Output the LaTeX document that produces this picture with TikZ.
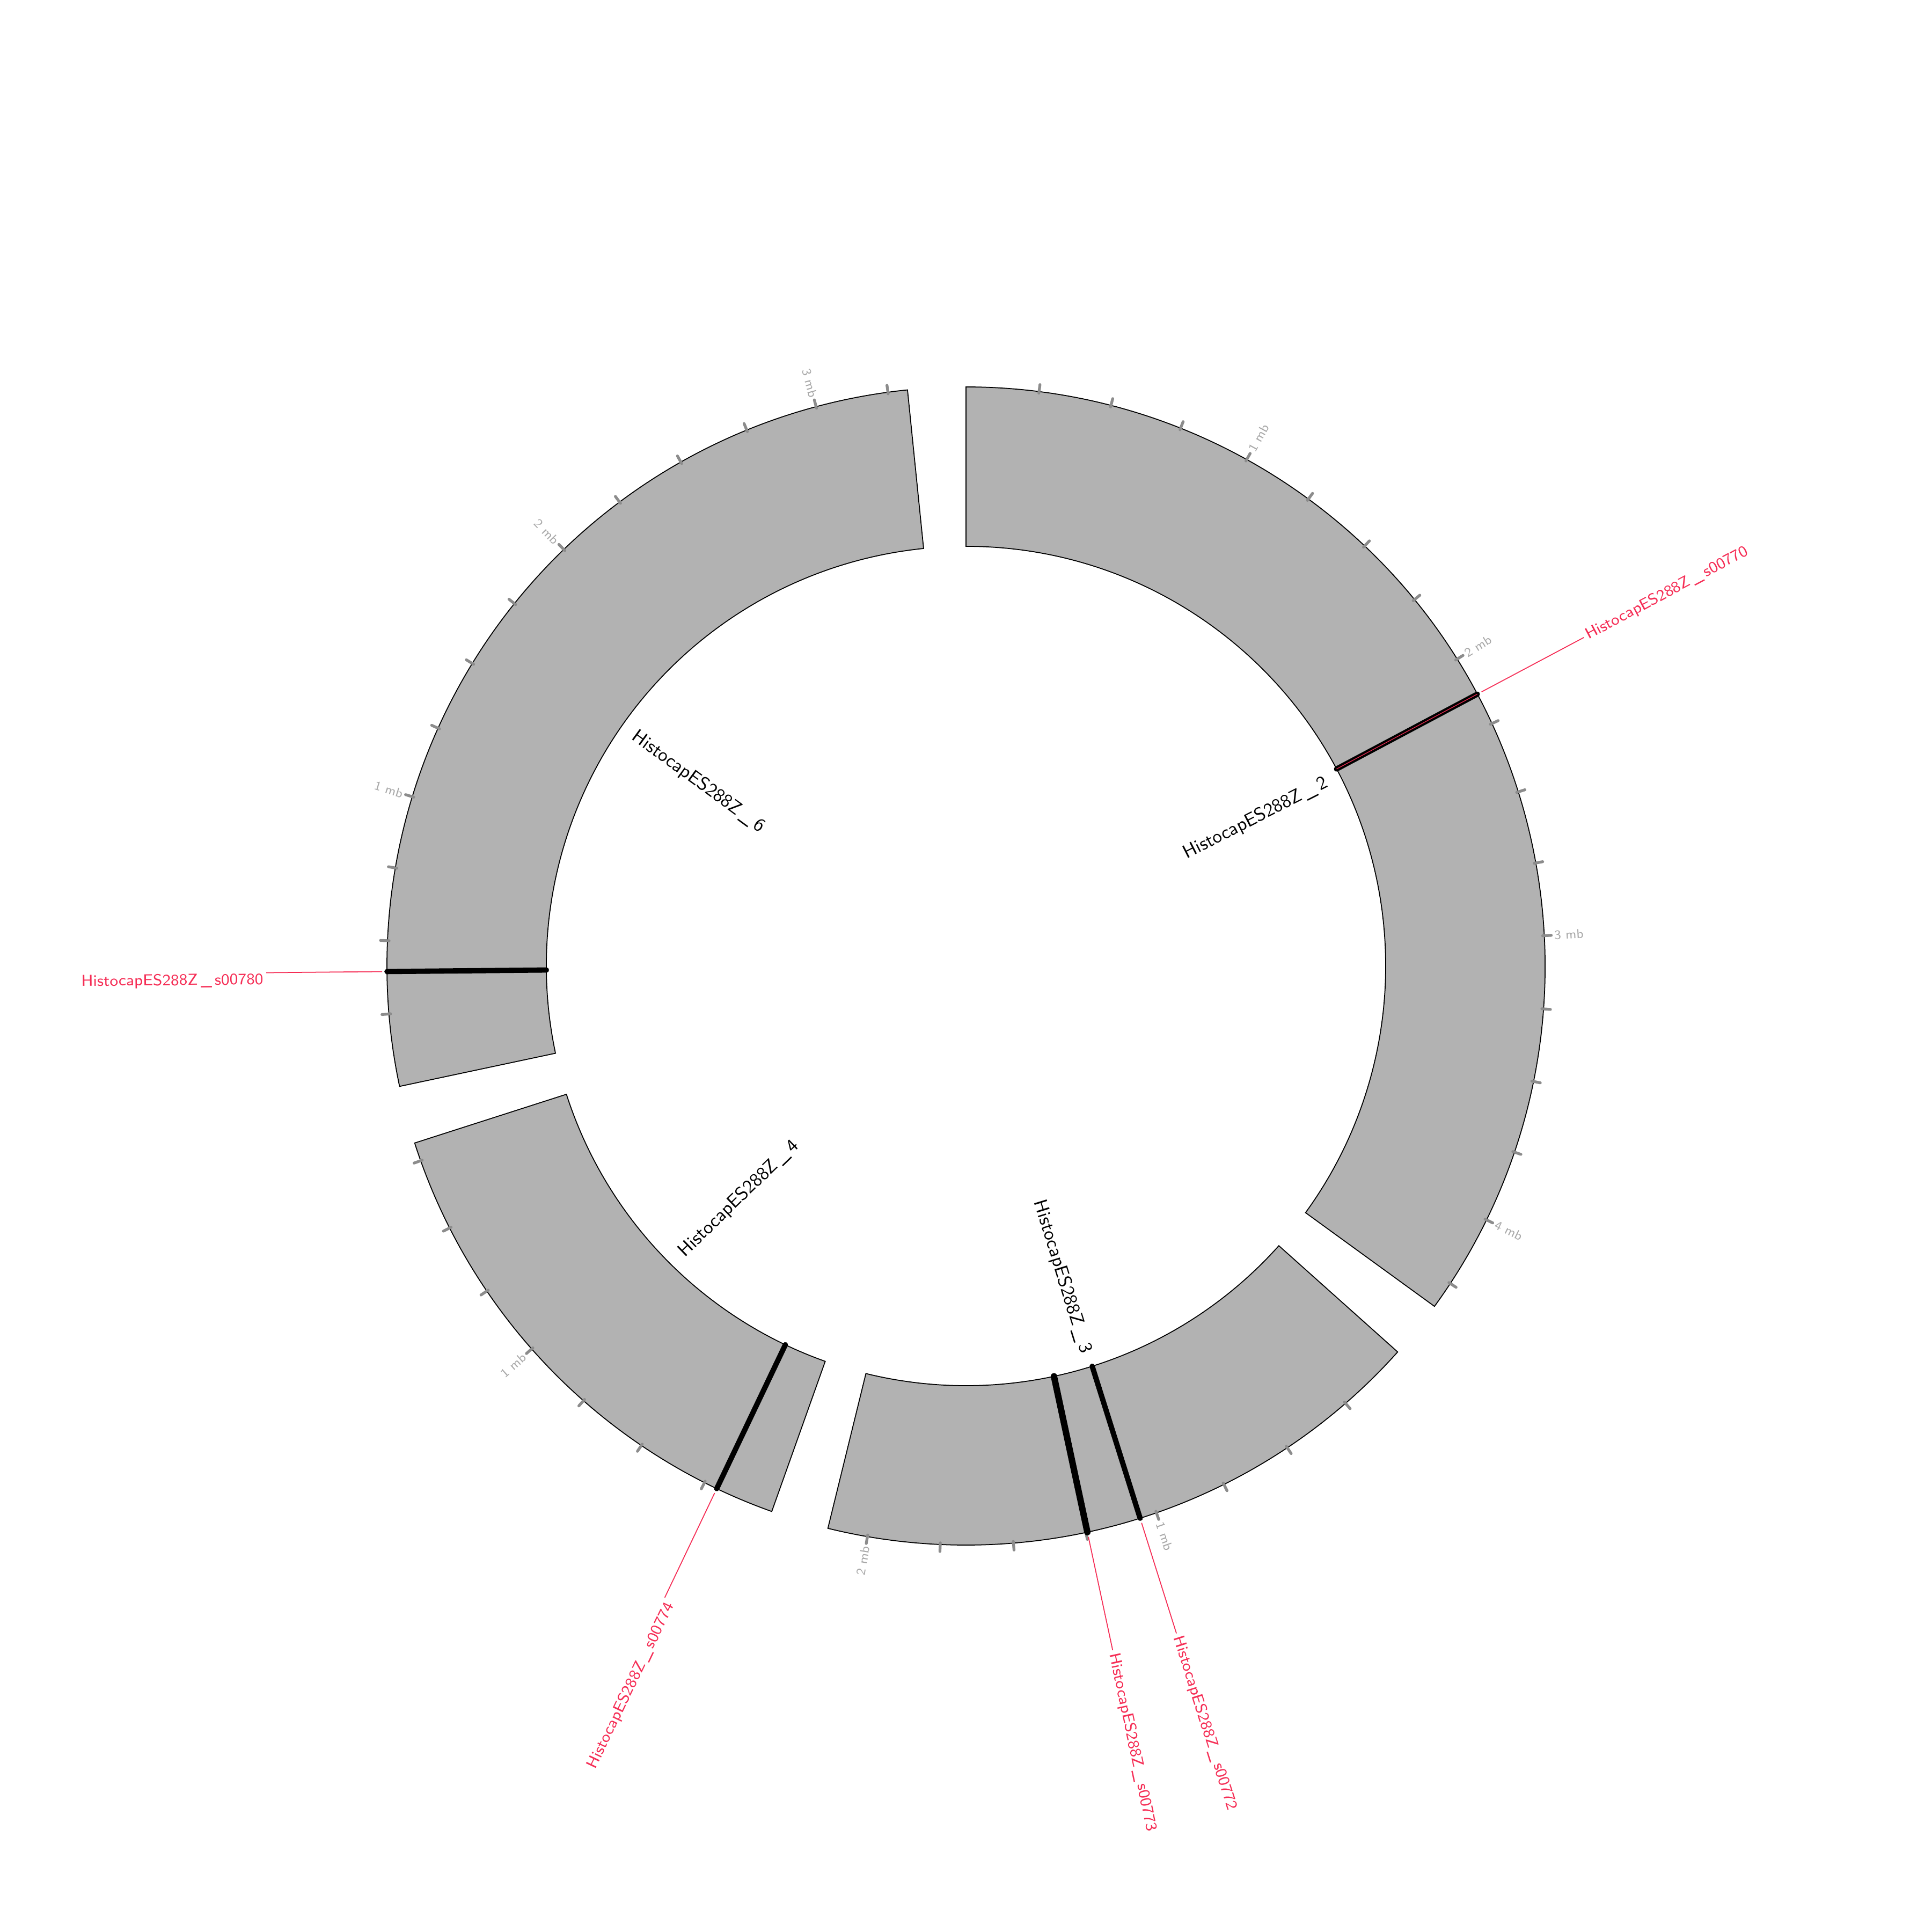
\documentclass[tikz,border=0pt]{standalone}

\definecolor{ringfill}{RGB}{178,178,178}
\definecolor{tickgray}{RGB}{140,140,140}
\definecolor{ticktext}{RGB}{168,168,168}
\definecolor{hitred}{RGB}{245,45,85}

\newcommand{\ringin}{7.82}
\newcommand{\ringout}{10.79}
\newcommand{\usc}{\hspace{0.18em}\_\hspace{0.18em}}

\tikzset{
    contig/.style={draw=black, fill=ringfill, line width=0.5pt},
    tickmark/.style={draw=tickgray, line width=1.5pt, line cap=round},
    ticklabel/.style={text=ticktext, font=\sffamily\fontsize{6.8}{8}\selectfont, inner sep=0pt},
    contiglabel/.style={font=\sffamily\fontsize{10}{12}\selectfont, inner sep=0pt},
    hitbar/.style={draw=black, line width=2.8pt, line cap=round},
    leader/.style={draw=hitred, line width=0.5pt},
    hitlabel/.style={text=hitred, font=\sffamily\fontsize{8.4}{10}\selectfont, inner sep=0pt}
}

\begin{document}
\begin{tikzpicture}
    \useasboundingbox (-18,-18) rectangle (18,18);

    % contigs, clockwise from the top
    \draw[contig] (90:\ringin) arc[start angle=90, end angle=-36, radius=\ringin]
        -- (-36:\ringout) arc[start angle=-36, end angle=90, radius=\ringout] -- cycle;
    \draw[contig] (-41.8:\ringin) arc[start angle=-41.8, end angle=-103.8, radius=\ringin]
        -- (-103.8:\ringout) arc[start angle=-103.8, end angle=-41.8, radius=\ringout] -- cycle;
    \draw[contig] (-109.6:\ringin) arc[start angle=-109.6, end angle=-162.2, radius=\ringin]
        -- (-162.2:\ringout) arc[start angle=-162.2, end angle=-109.6, radius=\ringout] -- cycle;
    \draw[contig] (-168:\ringin) arc[start angle=-168, end angle=-264.2, radius=\ringin]
        -- (-264.2:\ringout) arc[start angle=-264.2, end angle=-168, radius=\ringout] -- cycle;

    % ticks every 0.25 mb
    \foreach \start/\n in {90/17, -41.8/8, -109.6/7, -168/13}
        \foreach \k in {1,...,\n}
            \draw[tickmark] ({\start-\k*7.25}:{\ringout-0.03}) -- ({\start-\k*7.25}:{\ringout+0.13});

    \node[ticklabel, rotate=61, anchor=west] (c2mb1) at (61:{\ringout+0.18}) {1 mb};
    \node[ticklabel, rotate=32, anchor=west] (c2mb2) at (32:{\ringout+0.18}) {2 mb};
    \node[ticklabel, rotate=3, anchor=west] (c2mb3) at (3:{\ringout+0.18}) {3 mb};
    \node[ticklabel, rotate=-26, anchor=west] (c2mb4) at (-26:{\ringout+0.18}) {4 mb};
    \node[ticklabel, rotate=-70.8, anchor=west] (c3mb1) at (-70.8:{\ringout+0.18}) {1 mb};
    \node[ticklabel, rotate=80.2, anchor=east] (c3mb2) at (-99.8:{\ringout+0.18}) {2 mb};
    \node[ticklabel, rotate=41.4, anchor=east] (c4mb1) at (-138.6:{\ringout+0.18}) {1 mb};
    \node[ticklabel, rotate=-17, anchor=east] (c6mb1) at (-197:{\ringout+0.18}) {1 mb};
    \node[ticklabel, rotate=-46, anchor=east] (c6mb2) at (-226:{\ringout+0.18}) {2 mb};
    \node[ticklabel, rotate=-75, anchor=east] (c6mb3) at (-255:{\ringout+0.18}) {3 mb};

    % contig names
    \node[contiglabel, rotate=27, anchor=east] (c2name) at (27:7.55) {HistocapES288Z\usc 2};
    \node[contiglabel, rotate=-72.8, anchor=east] (c3name) at (-72.8:7.55) {HistocapES288Z\usc 3};
    \node[contiglabel, rotate=44.1, anchor=north west] (c4name) at (-135.9:7.55) {HistocapES288Z\usc 4};
    \node[contiglabel, rotate=-36.1, anchor=north west] (c6name) at (-216.1:7.55) {HistocapES288Z\usc 6};

    % hits
    \coordinate (s770in) at (28:\ringin);
    \coordinate (s770out) at (28:\ringout);
    \coordinate (s770lead) at (28:{\ringout+0.09});
    \coordinate (s770end) at (28:13.04);
    \draw[hitbar] (s770in) -- (s770out);
    \draw[leader, line width=0.35pt] (s770in) -- (s770out);
    \draw[leader] (s770lead) -- (s770end);
    \node[hitlabel, rotate=28, anchor=west] (s770) at (28:13.09) {HistocapES288Z\usc s00770};

    \coordinate (s772in) at (-72.5:\ringin);
    \coordinate (s772out) at (-72.5:\ringout);
    \coordinate (s772lead) at (-72.5:{\ringout+0.09});
    \coordinate (s772end) at (-72.5:13.04);
    \draw[hitbar] (s772in) -- (s772out);
    \draw[leader] (s772lead) -- (s772end);
    \node[hitlabel, rotate=-72.5, anchor=west] (s772) at (-72.5:13.09) {HistocapES288Z\usc s00772};

    \coordinate (s773in) at (-77.9:\ringin);
    \coordinate (s773out) at (-77.9:\ringout);
    \coordinate (s773lead) at (-77.9:{\ringout+0.09});
    \coordinate (s773end) at (-77.9:13.04);
    \draw[hitbar, line width=3.4pt] (s773in) -- (s773out);
    \draw[leader] (s773lead) -- (s773end);
    \node[hitlabel, rotate=-77.9, anchor=west] (s773) at (-77.9:13.09) {HistocapES288Z\usc s00773};

    \coordinate (s774in) at (-115.5:\ringin);
    \coordinate (s774out) at (-115.5:\ringout);
    \coordinate (s774lead) at (-115.5:{\ringout+0.09});
    \coordinate (s774end) at (-115.5:13.04);
    \draw[hitbar] (s774in) -- (s774out);
    \draw[leader] (s774lead) -- (s774end);
    \node[hitlabel, rotate=64.5, anchor=north east] (s774) at (-115.5:13.09) {HistocapES288Z\usc s00774};

    \coordinate (s780in) at (-179.45:\ringin);
    \coordinate (s780out) at (-179.45:\ringout);
    \coordinate (s780lead) at (-179.45:{\ringout+0.09});
    \coordinate (s780end) at (-179.45:13.04);
    \draw[hitbar] (s780in) -- (s780out);
    \draw[leader] (s780lead) -- (s780end);
    \node[hitlabel, rotate=0.55, anchor=north east] (s780) at (-179.45:13.09) {HistocapES288Z\usc s00780};
\end{tikzpicture}
\end{document}
